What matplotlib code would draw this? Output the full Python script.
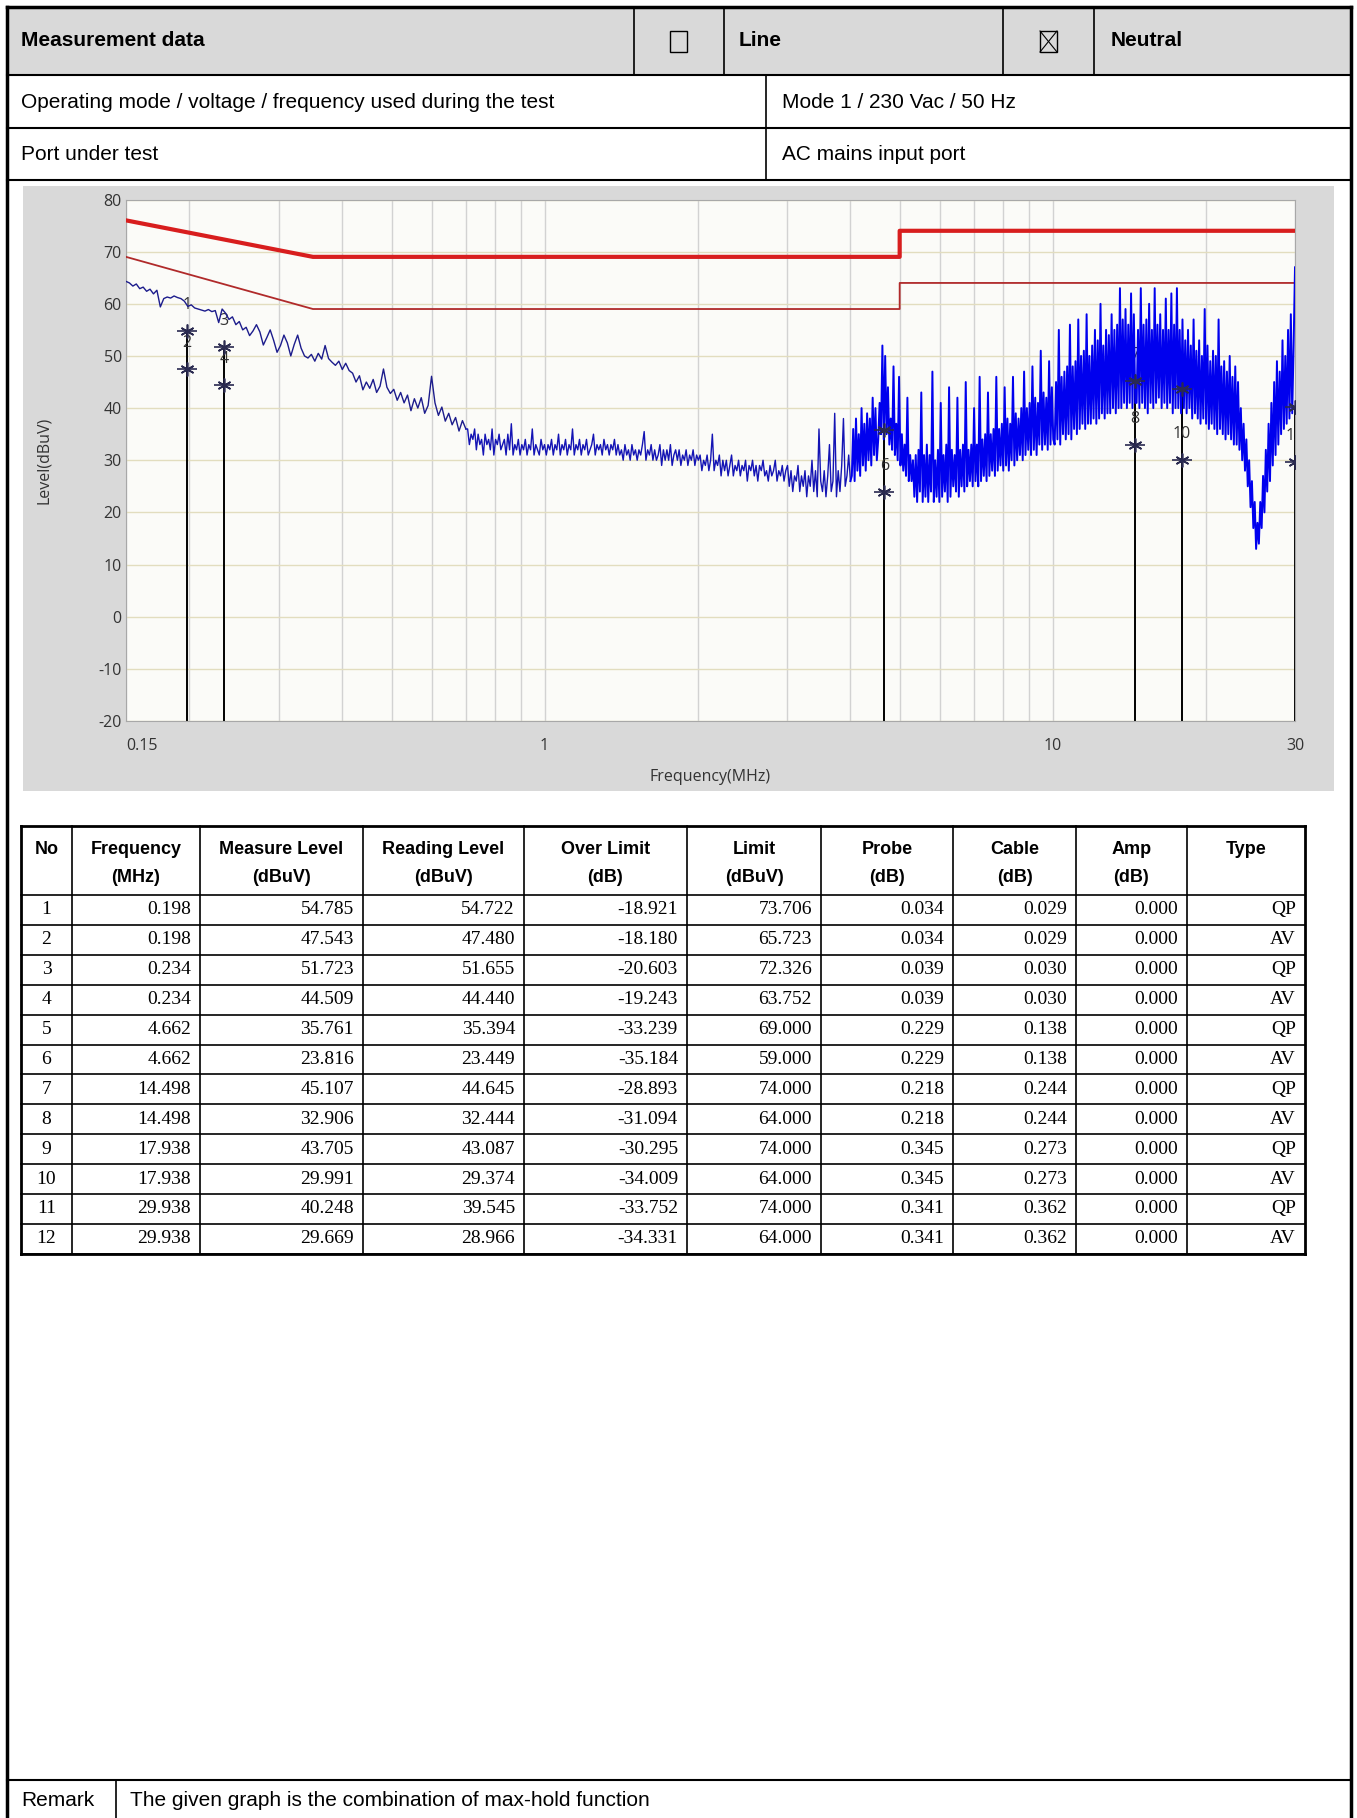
import numpy as np
import matplotlib.pyplot as plt
from matplotlib.patches import Rectangle

plt.rcParams['axes.unicode_minus'] = False

# ---- measurement table (values from the report) ----
no = [1, 2, 3, 4, 5, 6, 7, 8, 9, 10, 11, 12]
freq = [0.198, 0.198, 0.234, 0.234, 4.662, 4.662, 14.498, 14.498, 17.938, 17.938, 29.938, 29.938]
measure = [54.785, 47.543, 51.723, 44.509, 35.761, 23.816, 45.107, 32.906, 43.705, 29.991, 40.248, 29.669]
reading = [54.722, 47.480, 51.655, 44.440, 35.394, 23.449, 44.645, 32.444, 43.087, 29.374, 39.545, 28.966]
over = [-18.921, -18.180, -20.603, -19.243, -33.239, -35.184, -28.893, -31.094, -30.295, -34.009, -33.752, -34.331]
limit = [73.706, 65.723, 72.326, 63.752, 69.000, 59.000, 74.000, 64.000, 74.000, 64.000, 74.000, 64.000]
probe = [0.034, 0.034, 0.039, 0.039, 0.229, 0.229, 0.218, 0.218, 0.345, 0.345, 0.341, 0.341]
cable = [0.029, 0.029, 0.030, 0.030, 0.138, 0.138, 0.244, 0.244, 0.273, 0.273, 0.362, 0.362]
amp = [0.000] * 12
mtype = ['QP', 'AV'] * 6

# ---- limit lines ----
lim_f = [0.15, 0.35, 5.0, 5.0, 30.0]
lim_qp = [76, 69, 69, 74, 74]
lim_av = [69, 59, 59, 64, 64]

# ---- max-hold trace ----
# 0.15 - 0.7 MHz
trace_a = [64.3, 64, 63.4, 63.8, 62.9, 63.2, 62.4, 62.8, 61.9, 62.6,
           59.4, 61, 61.3, 61.1, 61.5, 61.2, 61, 60.5, 59.5, 59.8,
           59.2, 59, 58.8, 58.6, 58.9, 58.5, 58.7, 56.4, 59, 58.2,
           57, 57.5, 56, 56.6, 55, 55.5, 53.9, 54.8, 56, 54.6,
           52.1, 53.5, 55, 53, 50.7, 52, 54, 52.5, 50, 52.2,
           54, 51.5, 50, 49.6, 50.3, 49, 50.5, 49.4, 52, 49.5,
           48.8, 48.2, 49, 47.4, 48.6, 47.2, 46.7, 45, 46.2, 43.5,
           45, 43.8, 45.5, 43, 44.2, 47.5, 44, 42.8, 43.6, 41.5,
           43, 41, 42.5, 39.5, 41.8, 40, 42, 39, 40.5, 46.1,
           41, 38.6, 40.2, 37.5, 39, 36.8, 38.2, 35.6, 37.6, 36]
# 0.7 - 4 MHz
trace_b = [36, 33, 35, 34, 36, 32, 35, 33, 34, 31,
           35, 33, 34, 32, 36, 31, 34, 33, 35, 32,
           33, 34, 31, 35, 32, 37, 31, 33, 32, 34,
           31, 33, 32, 34, 31, 33, 32, 36, 31, 33,
           32, 31, 34, 32, 33,
           31, 33, 32, 34, 31, 33, 32, 35, 31, 33,
           32, 34, 31, 33, 32, 36, 31, 33, 32, 34,
           31, 33, 32, 34, 31, 32, 33, 35, 31, 33,
           32, 33, 31, 34, 32, 33, 31, 33, 32, 34,
           31, 33,
           31, 32, 30, 33, 31, 32, 30, 33, 31, 32,
           30, 32, 31, 33, 35.5, 30, 32, 31, 33, 30,
           32, 30, 31, 33, 29, 32, 30, 32, 30, 33,
           29, 31, 32, 30, 32, 29, 31, 30, 32, 29,
           31, 30, 32, 29, 31,
           30, 31, 28, 30, 29, 31, 28, 30, 35, 28,
           30, 29, 31, 27, 30, 28, 30, 27, 29, 31,
           27, 29, 28, 30, 27, 29, 28, 30, 26, 29,
           28, 30, 27, 29, 26, 29, 28, 30, 27, 28,
           26, 29, 27, 28, 30, 26, 28, 27, 29, 26,
           28,
           29, 25, 28, 24, 27, 26, 29, 24, 27, 25,
           28, 23, 27, 25, 30, 24, 28, 23, 36, 26,
           24, 28, 23, 27, 33, 24, 26, 39, 23, 28,
           24, 29, 38, 25, 27, 31, 26]
# 4 - 30 MHz
trace_c = [27, 36, 26, 38, 28, 35, 27, 40, 29, 37, 28, 39, 30, 38, 29, 42, 31, 40, 30,
           34, 41, 35, 52, 34, 50, 35, 44, 33,
           38, 32, 48, 31, 37, 30, 46, 29, 35, 28, 33, 27, 42, 26, 31, 26, 30,
           23, 31, 22, 32, 24, 43, 22, 31, 23, 33, 22, 31, 24, 47, 22, 30, 23, 32, 22, 41,
           23, 31, 24, 33, 22, 44, 23, 32, 25, 31, 24, 42, 23, 32, 25, 33, 24, 45, 25, 32,
           26, 33, 25, 40,
           26, 33, 25, 46, 26, 34, 27, 35, 26, 43, 27, 35, 28, 36, 27, 46, 28, 36, 29, 37,
           28, 44, 29, 38, 28, 37, 30, 46, 29, 39, 30, 38, 31, 40, 30, 47, 31, 40, 32, 41,
           31, 48, 32, 42, 31, 41, 33, 51, 32, 43, 33, 42, 32, 49, 33, 44, 34,
           33, 45, 34, 55, 33, 46, 35, 47, 34, 48, 35, 56, 34, 48, 36, 49, 35, 57, 36, 50,
           37, 51, 36, 58, 37, 50, 37, 52, 38, 55, 37, 53, 38, 60, 39, 52, 38, 55, 39, 54,
           39, 58, 40, 55, 39, 56, 40, 63, 40, 57, 41, 59, 40, 56, 41, 62, 40, 58, 41,
           41, 55, 40, 63, 41, 56, 40, 57, 39, 60, 41, 55, 40, 63, 41, 56, 42, 58, 40, 55,
           41, 61, 40, 55, 41, 62, 39, 56, 40, 63, 40, 55, 39, 57,
           40, 53, 39, 55, 40, 52, 38, 57, 39, 51, 38, 53, 37, 50, 38, 59, 37, 52, 36, 49,
           37, 51, 36, 50, 35, 57, 36, 48, 35, 49, 34, 47, 35, 50, 34, 46, 33, 48, 33, 45,
           32, 40, 30, 37, 28, 34, 25, 30, 21, 26, 17, 22, 13, 18,
           14, 22, 17, 27, 20, 32, 24, 37, 26, 41, 29, 45, 31, 49, 33, 47, 35, 53, 36, 50,
           37, 55, 38, 58, 39, 52, 67]

# sweep points of each band (log sweep)
f_a = np.geomspace(0.15, 0.7, len(trace_a))
f_b = np.geomspace(0.7, 4.0, len(trace_b) + 1)[1:]
f_c = np.geomspace(4.0, 30.0, len(trace_c) + 1)[1:]

W, H = 1357, 1818
fig = plt.figure(figsize=(W / 100, H / 100), dpi=100)
page = fig.add_axes([0, 0, 1, 1])
page.set_xlim(0, W)
page.set_ylim(H, 0)
page.axis('off')

SANS = ['Liberation Sans', 'DejaVu Sans']
NARROW = ['Liberation Sans Narrow', 'Liberation Sans', 'DejaVu Sans']
SERIF = ['Liberation Serif', 'DejaVu Serif']
UI = ['Open Sans', 'DejaVu Sans']

L, R = 7, 1351

# header row
page.add_patch(Rectangle((L, 7), R - L, 68, facecolor='#d9d9d9', edgecolor='none'))
for x in [634, 724, 1003, 1094]:
    page.plot([x, x], [7, 75], color='black', lw=1.2)
page.text(21, 41, 'Measurement data', fontsize=15, fontweight='bold', family=SANS, va='center')
page.text(739, 41, 'Line', fontsize=15, fontweight='bold', family=SANS, va='center')
page.text(1111, 41, 'Neutral', fontsize=15, fontweight='bold', family=SANS, va='center')
page.add_patch(Rectangle((670, 31), 17, 21, facecolor='none', edgecolor='black', lw=1))
page.add_patch(Rectangle((1040, 31), 17, 21, facecolor='none', edgecolor='black', lw=1))
page.plot([1040, 1057], [31, 52], color='black', lw=0.8)
page.plot([1040, 1057], [52, 31], color='black', lw=0.8)

for y in [75, 128, 180, 1780]:
    page.plot([L, R], [y, y], color='black', lw=1.5)
page.plot([766, 766], [75, 180], color='black', lw=1.2)
page.text(21, 102, 'Operating mode / voltage / frequency used during the test', fontsize=15, family=SANS, va='center')
page.text(782, 102, 'Mode 1 / 230 Vac / 50 Hz', fontsize=15, family=SANS, va='center')
page.text(21, 154, 'Port under test', fontsize=15, family=SANS, va='center')
page.text(782, 154, 'AC mains input port', fontsize=15, family=SANS, va='center')

# remark row
page.plot([116, 116], [1780, H], color='black', lw=1.2)
page.text(21, 1801, 'Remark', fontsize=15, family=SANS, va='center')
page.text(130, 1801, 'The given graph is the combination of max-hold function', fontsize=15, family=SANS, va='center')

# outer border
page.plot([L, R], [7, 7], color='black', lw=2.5)
page.plot([L, L], [7, H], color='black', lw=2.5)
page.plot([R, R], [7, H], color='black', lw=2.5)

# chart panel
page.add_patch(Rectangle((23, 186), 1311, 605, facecolor='#d9d9d9', edgecolor='none'))
grad = np.linspace(0, 1, 30).reshape(1, -1)
page.imshow(grad, extent=(1310, 1334, 791, 186), cmap='Greys', vmin=-1.5, vmax=2.2, aspect='auto')
page.text(44, 460, 'Level(dBuV)', fontsize=11.5, family=UI, rotation=90, ha='center', va='center', color='#333333')
page.text(710, 777, 'Frequency(MHz)', fontsize=11.5, family=UI, ha='center', va='center', color='#333333')

x0, x1, y0, y1 = 126, 1295, 199.5, 721
ax = fig.add_axes([x0 / W, 1 - y1 / H, (x1 - x0) / W, (y1 - y0) / H])
ax.set_facecolor('#fbfbf8')
ax.set_xscale('log')
ax.set_xlim(0.15, 30)
ax.set_ylim(-20, 80)
ax.set_xticks([0.15, 1, 10, 30])
ax.set_xticklabels(['0.15', '1', '10', '30'])
ax.set_xticks([0.2, 0.3, 0.4, 0.5, 0.6, 0.7, 0.8, 0.9, 2, 3, 4, 5, 6, 7, 8, 9, 20], minor=True)
ax.set_yticks(range(-20, 81, 10))
ax.tick_params(which='both', length=0, labelsize=11.5, colors='#333333', pad=3)
ax.tick_params(axis='x', pad=12)
for lab in ax.get_xticklabels() + ax.get_yticklabels():
    lab.set_family(UI)
ax.get_xticklabels()[0].set_horizontalalignment('left')
ax.grid(axis='y', color='#e2ddbf', lw=1)
ax.grid(axis='x', which='both', color='#d2d2d2', lw=1)
for s in ax.spines.values():
    s.set_color('#a8a8a8')

ax.plot(lim_f, lim_qp, color='#d81e1e', lw=3, zorder=3)
ax.plot(lim_f, lim_av, color='#b02a2a', lw=1.3, zorder=3)

qp_f = freq[0::2]
qp_v = measure[0::2]
ax.vlines(qp_f, -20, qp_v, color='black', lw=1.4, zorder=2)
for n, f, v in zip(no, freq, measure):
    ax.text(f, v + 5, str(n), fontsize=11.5, family=UI, ha='center', va='center', color='#333333', zorder=2.5, clip_on=True)

ax.plot(f_a, trace_a, color='#1c1c8c', lw=1.0, zorder=3)
ax.plot(np.r_[f_a[-1], f_b], [trace_a[-1]] + trace_b, color='#1414b4', lw=1.0, zorder=3)
ax.plot(np.r_[f_b[-1], f_c], [trace_b[-1]] + trace_c, color='#0000ee', lw=1.4, zorder=3)

ax.plot(freq, measure, ls='', marker=(6, 2, 0), ms=10, mew=1.2, color='#2a2a50', zorder=4)
ax.plot(freq, measure, ls='', marker='_', ms=14, mew=1.2, color='#2a2a50', zorder=4)

# measurement table
cols = [21, 72, 200, 363, 524, 687, 821, 953, 1076, 1187, 1305]
t_top, t_head, row_h = 826, 895, 29.9
t_bot = t_head + row_h * len(no)
page.plot([cols[0], cols[-1]], [t_top, t_top], color='black', lw=2)
page.plot([cols[0], cols[-1]], [t_bot, t_bot], color='black', lw=2)
for i in range(len(no) + 1):
    y = t_head + row_h * i
    page.plot([cols[0], cols[-1]], [y, y], color='black', lw=1.2)
for j, x in enumerate(cols):
    page.plot([x, x], [t_top, t_bot], color='black', lw=2 if j in (0, len(cols) - 1) else 1.2)

head1 = ['No', 'Frequency', 'Measure Level', 'Reading Level', 'Over Limit', 'Limit', 'Probe', 'Cable', 'Amp', 'Type']
head2 = ['', '(MHz)', '(dBuV)', '(dBuV)', '(dB)', '(dBuV)', '(dB)', '(dB)', '(dB)', '']
for j in range(10):
    xc = (cols[j] + cols[j + 1]) / 2
    page.text(xc, 850, head1[j], fontsize=13, fontweight='bold', family=NARROW, ha='center', va='center')
    page.text(xc, 878, head2[j], fontsize=13, fontweight='bold', family=NARROW, ha='center', va='center')

for i in range(len(no)):
    yc = t_head + row_h * (i + 0.5)
    cells = [str(no[i]), '%.3f' % freq[i], '%.3f' % measure[i], '%.3f' % reading[i], '%.3f' % over[i],
             '%.3f' % limit[i], '%.3f' % probe[i], '%.3f' % cable[i], '%.3f' % amp[i], mtype[i]]
    page.text((cols[0] + cols[1]) / 2, yc, cells[0], fontsize=14, family=SERIF, ha='center', va='center')
    for j in range(1, 10):
        page.text(cols[j + 1] - 9, yc, cells[j], fontsize=14, family=SERIF, ha='right', va='center')

fig.savefig('out.png', dpi=100)
